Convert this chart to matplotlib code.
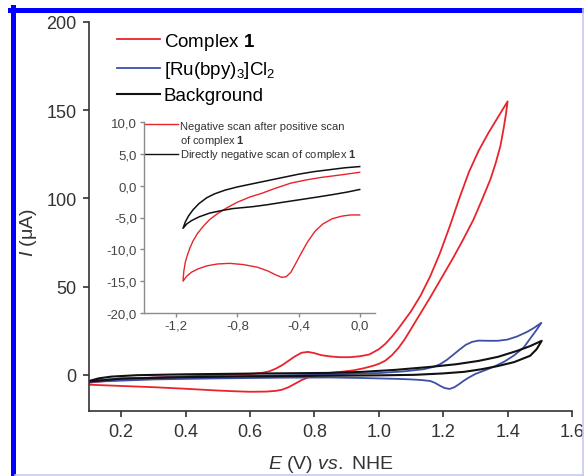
import matplotlib
matplotlib.use('Agg')
import matplotlib.pyplot as plt
from matplotlib.lines import Line2D
from matplotlib.ticker import FuncFormatter

plt.rcParams['font.family'] = ['Liberation Sans', 'DejaVu Sans']
plt.rcParams['mathtext.fontset'] = 'custom'
plt.rcParams['mathtext.rm'] = 'Liberation Sans'
plt.rcParams['mathtext.it'] = 'Liberation Sans:italic'
plt.rcParams['mathtext.bf'] = 'Liberation Sans:bold'

# main CV: complex 1 (red)
red_fwd_E = [0.10, 0.20, 0.30, 0.40, 0.50, 0.60, 0.64, 0.66, 0.68, 0.70, 0.72, 0.74, 0.76, 0.78, 0.80,
             0.82, 0.85, 0.88, 0.91, 0.94, 0.97, 1.00, 1.02, 1.04, 1.06, 1.08, 1.10, 1.13, 1.16, 1.19,
             1.22, 1.25, 1.28, 1.31, 1.34, 1.37, 1.40]
red_fwd_I = [-4.5, -2.5, -1.5, -0.8, -0.2, 0.5, 1.2, 2, 3.5, 5.5, 8, 10.5, 12.5, 13, 12.3,
             11.2, 10.4, 10, 10, 10.5, 11.5, 14.5, 17.5, 21.5, 26, 31, 36, 45, 56, 69,
             84, 100, 115, 127, 137, 146, 155]
red_rev_E = [1.40, 1.395, 1.388, 1.378, 1.363, 1.347, 1.32, 1.294, 1.26, 1.23, 1.195, 1.16, 1.13, 1.105,
             1.08, 1.06, 1.04, 1.02, 1.00, 0.98, 0.95, 0.92, 0.887, 0.85, 0.82, 0.80, 0.78, 0.76,
             0.74, 0.72, 0.70, 0.68, 0.65, 0.60, 0.55, 0.50, 0.40, 0.30, 0.20, 0.10]
red_rev_I = [155, 148, 140, 130, 120, 111, 99, 88, 76, 66, 55, 44, 35, 27.5,
             20, 15, 11, 8, 6.2, 5, 3.6, 2.5, 1.8, 1.2, 0.6, -0.3, -1.5, -3,
             -5, -7, -8.4, -9.1, -9.5, -9.6, -9.3, -8.9, -7.9, -7.0, -6.3, -5.6]

# [Ru(bpy)3]Cl2 (blue)
blue_fwd_E = [0.10, 0.20, 0.40, 0.60, 0.80, 1.00, 1.08, 1.14, 1.17, 1.19, 1.21, 1.23, 1.25, 1.27,
              1.29, 1.31, 1.34, 1.37, 1.40, 1.43, 1.46, 1.48, 1.505]
blue_fwd_I = [-3.5, -2.0, -1.2, -0.6, 0.0, 1.0, 2.0, 3.2, 4.5, 6, 8.3, 11.2, 14.2, 17,
              18.7, 19.4, 19.3, 19.3, 20, 21.8, 24.3, 26.4, 29.5]
blue_rev_E = [1.505, 1.49, 1.47, 1.45, 1.42, 1.39, 1.36, 1.33, 1.30, 1.28, 1.265, 1.25, 1.235, 1.22,
              1.205, 1.19, 1.175, 1.16, 1.13, 1.10, 1.06, 0.95, 0.85, 0.70, 0.50, 0.30, 0.10]
blue_rev_I = [29.5, 25.5, 20.5, 15.5, 11, 7.5, 4.8, 2.6, 0.5, -1.5, -3.2, -5.2, -7, -8,
              -7.5, -6.2, -4.6, -3.5, -2.9, -2.6, -2.3, -1.8, -1.5, -1.6, -2.0, -2.6, -4.0]

# background (black)
bg_fwd_E = [0.10, 0.13, 0.17, 0.25, 0.40, 0.60, 0.85, 0.95, 1.05, 1.16, 1.24, 1.31, 1.37, 1.43, 1.47, 1.506]
bg_fwd_I = [-3.5, -2.0, -1.0, -0.2, 0.3, 0.7, 1.1, 1.7, 2.8, 4.5, 6.0, 7.9, 10.2, 13.6, 16.3, 19.3]
bg_rev_E = [1.506, 1.49, 1.47, 1.42, 1.37, 1.32, 1.265, 1.20, 1.11, 1.00, 0.85, 0.60, 0.40, 0.20, 0.10]
bg_rev_I = [19.3, 14.5, 10.8, 7.2, 5.0, 3.2, 1.7, 0.8, 0.0, -0.3, -0.5, -0.9, -1.3, -2.2, -3.8]

# inset: negative scan after positive scan (red)
in_red_E = [0.0, -0.12, -0.25, -0.35, -0.45, -0.55, -0.64, -0.72, -0.80, -0.87, -0.93, -0.98, -1.02,
            -1.06, -1.09, -1.11, -1.125, -1.14, -1.15, -1.155,
            -1.13, -1.10, -1.06, -1.0, -0.93, -0.85, -0.76, -0.67, -0.60, -0.55, -0.51, -0.48, -0.45,
            -0.42, -0.38, -0.34, -0.29, -0.24, -0.18, -0.12, -0.06, 0.0]
in_red_I = [2.1, 1.7, 1.3, 0.9, 0.4, -0.4, -1.2, -1.8, -2.6, -3.5, -4.4, -5.3, -6.3,
            -7.5, -8.7, -9.8, -10.8, -12, -13.5, -15,
            -14.2, -13.6, -13.1, -12.6, -12.3, -12.2, -12.4, -12.8, -13.4, -14.0, -14.4, -14.3, -13.6,
            -12.3, -10.5, -8.8, -7.1, -6.0, -5.2, -4.8, -4.6, -4.6]
# inset: directly negative scan (black)
in_blk_E = [0.0, -0.1, -0.2, -0.3, -0.4, -0.5, -0.6, -0.7, -0.8, -0.88, -0.95, -1.0, -1.05, -1.09,
            -1.12, -1.14, -1.155,
            -1.13, -1.10, -1.05, -0.98, -0.9, -0.83, -0.7, -0.606, -0.5, -0.39, -0.28, -0.176, -0.08, 0.0]
in_blk_I = [3.0, 2.8, 2.5, 2.2, 1.8, 1.3, 0.8, 0.3, -0.2, -0.7, -1.3, -1.9, -2.8, -3.8,
            -4.8, -5.7, -6.7,
            -6.0, -5.5, -4.9, -4.3, -3.9, -3.6, -3.3, -3.0, -2.6, -2.2, -1.8, -1.4, -1.0, -0.6]

main_xticks = [0.2, 0.4, 0.6, 0.8, 1.0, 1.2, 1.4, 1.6]
main_yticks = [0, 50, 100, 150, 200]
inset_xticks = [-1.2, -0.8, -0.4, 0.0]
inset_yticks = [-20, -15, -10, -5, 0, 5, 10]

RED = '#e8242c'
BLUE = '#3d4fa6'
BLACK = '#111111'

fig = plt.figure(figsize=(5.84, 4.77), dpi=100)
ax = fig.add_axes([89 / 584, 1 - 412 / 477, (572 - 89) / 584, (412 - 23) / 477])

ax.plot(red_fwd_E + red_rev_E, red_fwd_I + red_rev_I, color=RED, lw=1.3, label=r'Complex $\mathbf{1}$')
ax.plot(blue_fwd_E + blue_rev_E, blue_fwd_I + blue_rev_I, color=BLUE, lw=1.3,
        label=r'[Ru(bpy)$_3$]Cl$_2$')
ax.plot(bg_fwd_E + bg_rev_E, bg_fwd_I + bg_rev_I, color=BLACK, lw=1.5, label='Background')

ax.set_xlim(0.1, 1.6)
ax.set_ylim(-20.5, 200)
ax.set_xticks(main_xticks)
ax.set_yticks(main_yticks)
ax.xaxis.set_major_formatter(FuncFormatter(lambda v, p: f'{v:.1f}'))
for s in ['top', 'right']:
    ax.spines[s].set_visible(False)
for s in ['left', 'bottom']:
    ax.spines[s].set_color('#333333')
    ax.spines[s].set_linewidth(1.2)
ax.tick_params(direction='out', length=4, width=1.2, color='#333333', labelcolor='#333333',
               labelsize=13, pad=5)

ax.set_xlabel(r'$E$ (V) $vs.$ NHE', fontsize=14, color='#333333')
ax.xaxis.label.set_va('center')
ax.xaxis.set_label_coords(0.5, -0.136)
ax.set_ylabel(r'$I$ ($\mathregular{\mu}$A)', fontsize=14, color='#333333')
ax.yaxis.label.set_va('center')
ax.yaxis.set_label_coords(-0.126, 0.46)

ax.legend(loc='upper left', bbox_to_anchor=(0.058, 0.977), frameon=False, fontsize=13.5,
          handlelength=2.3, handletextpad=0.2, borderpad=0, borderaxespad=0, labelspacing=0.38)

# inset
axin = fig.add_axes([144 / 584, 1 - 314 / 477, (375 - 144) / 584, (314 - 123) / 477])
axin.plot(in_red_E, in_red_I, color=RED, lw=1.0)
axin.plot(in_blk_E, in_blk_I, color=BLACK, lw=1.1)
axin.set_xlim(-1.41, 0.1)
axin.set_ylim(-20, 10)
axin.set_xticks(inset_xticks)
axin.set_yticks(inset_yticks)
comma = FuncFormatter(lambda v, p: f'{v:.1f}'.replace('.', ',').replace('-0,0', '0,0'))
axin.xaxis.set_major_formatter(comma)
axin.yaxis.set_major_formatter(comma)
for s in ['top', 'right']:
    axin.spines[s].set_visible(False)
for s in ['left', 'bottom']:
    axin.spines[s].set_color('#8a8a8a')
    axin.spines[s].set_linewidth(1.0)
axin.tick_params(direction='out', length=3, width=1.0, color='#8a8a8a', labelcolor='#444444',
                 labelsize=9.5, pad=2)
axin.patch.set_alpha(0)

axin.plot([0.004, 0.147], [0.99, 0.99], transform=axin.transAxes, color=RED, lw=1.0, clip_on=False)
axin.text(0.156, 0.98, 'Negative scan after positive scan', transform=axin.transAxes,
          fontsize=8, color='#333333', va='center', ha='left')
axin.text(0.156, 0.905, r'of complex $\mathbf{1}$', transform=axin.transAxes,
          fontsize=8, color='#333333', va='center', ha='left')
axin.plot([0.004, 0.147], [0.835, 0.835], transform=axin.transAxes, color=BLACK, lw=1.0, clip_on=False)
axin.text(0.156, 0.83, r'Directly negative scan of complex $\mathbf{1}$', transform=axin.transAxes,
          fontsize=8, color='#333333', va='center', ha='left')

# blue frame around the figure
fig.add_artist(Line2D([12.5 / 584, 12.5 / 584], [0, 1 - 8 / 477], color='#0000ff', lw=3.6))
fig.add_artist(Line2D([10 / 584, 1], [1 - 10.5 / 477, 1 - 10.5 / 477], color='#0000ff', lw=3.6))
fig.add_artist(Line2D([582.5 / 584, 582.5 / 584], [0, 1 - 10 / 477], color='#c8c8f2', lw=1.2))
fig.add_artist(Line2D([15 / 584, 1], [1 / 477, 1 / 477], color='#c8c8f2', lw=1.2))

fig.savefig('out.png', dpi=100)
